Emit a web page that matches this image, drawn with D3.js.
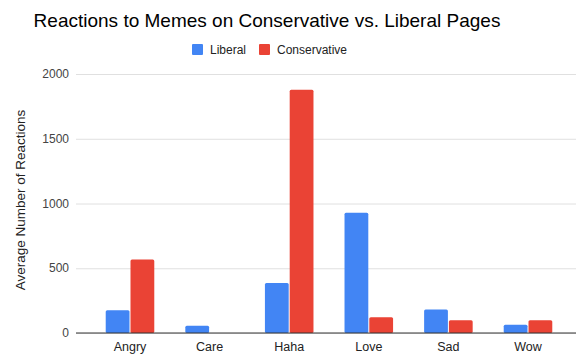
<!DOCTYPE html>
<html>
<head>
<meta charset="utf-8">
<script src="https://cdn.jsdelivr.net/npm/d3@7"></script>
<style>
  body { margin:0; background:#fff; }
  svg { font-family: "Liberation Sans", Arial, sans-serif; }
  .grid line { stroke:#e0e0e0; }
  .tick text { fill:#444; }
</style>
</head>
<body>
<div id="chart"></div>
<script>
var categories = ['Angry','Care','Haha','Love','Sad','Wow'];
var liberal = [175, 56, 387, 928, 182, 64];
var conservative = [567, 0, 1879, 121, 98, 98];
var seriesNames = ['Liberal','Conservative'];
var seriesColors = ['#4285f4','#ea4335'];
var yTicks = [0, 500, 1000, 1500, 2000];

var width = 576, height = 354,
    plot = {left:76, right:576, top:74, bottom:333};

var data = categories.map(function (c, i) {
    return {cat:c, values:[liberal[i], conservative[i]]};
});

var svg = d3.select('#chart').append('svg')
    .attr('width', width)
    .attr('height', height);

// x scale: groups
var x = d3.scaleBand()
    .domain(categories)
    .range([90.2, 567.8])
    .paddingInner(0.39)
    .paddingOuter(0.195);

var xs = d3.scaleBand()
    .domain([0,1])
    .range([0, x.bandwidth()])
    .paddingInner(0.04);

var y = d3.scaleLinear()
    .domain([0, 2000])
    .range([plot.bottom, plot.top]);

// gridlines
svg.append('g')
    .attr('class','grid')
    .attr('transform','translate('+plot.left+',0)')
    .call(d3.axisLeft(y).tickValues(yTicks).tickSize(-(plot.right-plot.left)).tickFormat(''))
    .call(function (g) { g.select('.domain').remove(); });

// y labels
svg.append('g')
    .selectAll('text')
    .data(yTicks)
    .enter()
    .append('text')
    .attr('x', 69)
    .attr('y', function (d) { return y(d); })
    .attr('dy','0.35em')
    .attr('text-anchor','end')
    .attr('font-size', 12)
    .attr('fill','#444')
    .text(function (d) { return d; });

// bars
var groups = svg.selectAll('.item')
    .data(data)
    .enter()
    .append('g')
    .attr('transform', function (d) { return 'translate('+x(d.cat)+',0)'; });

groups.selectAll('rect')
    .data(function (d) { return d.values; })
    .enter()
    .append('rect')
    .attr('x', function (d, i) { return xs(i); })
    .attr('y', function (d) { return y(d); })
    .attr('width', xs.bandwidth())
    .attr('height', function (d) { return y(0) - y(d); })
    .attr('rx', 1.5)
    .attr('fill', function (d, i) { return seriesColors[i]; })
    .style('display', function (d) { return d > 0 ? null : 'none'; });

// baseline
svg.append('line')
    .attr('x1', plot.left).attr('x2', plot.right)
    .attr('y1', y(0)).attr('y2', y(0))
    .attr('stroke','#333');

// x labels
svg.append('g')
    .selectAll('text')
    .data(categories)
    .enter()
    .append('text')
    .attr('x', function (d) { return x(d) + x.bandwidth()/2; })
    .attr('y', 351)
    .attr('text-anchor','middle')
    .attr('font-size', 12.5)
    .attr('fill','#222')
    .text(function (d) { return d; });

// y title
svg.append('text')
    .attr('transform','translate(25,200) rotate(-90)')
    .attr('text-anchor','middle')
    .attr('font-size', 13.5)
    .attr('fill','#222')
    .text('Average Number of Reactions');

// title
svg.append('text')
    .attr('x', 267)
    .attr('y', 27)
    .attr('text-anchor','middle')
    .attr('font-size', 19)
    .attr('fill','#000')
    .text('Reactions to Memes on Conservative vs. Liberal Pages');

// legend
var legendX = [192, 259];
var legend = svg.selectAll('.legend')
    .data(seriesNames)
    .enter()
    .append('g')
    .attr('transform', function (d, i) { return 'translate('+legendX[i]+',44)'; });

legend.append('rect')
    .attr('width', 11)
    .attr('height', 11)
    .attr('rx', 1)
    .attr('fill', function (d, i) { return seriesColors[i]; });

legend.append('text')
    .attr('x', 18)
    .attr('y', 10)
    .attr('font-size', 12)
    .attr('fill','#222')
    .text(function (d) { return d; });
</script>
</body>
</html>
